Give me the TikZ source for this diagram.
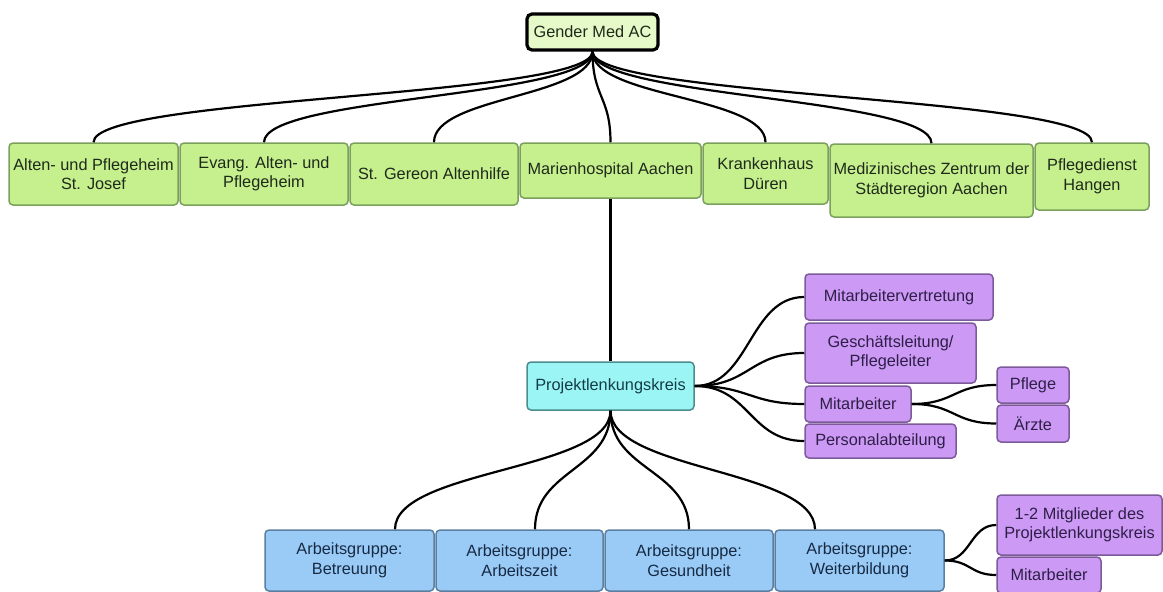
\documentclass[tikz,border=0pt]{standalone}
\usepackage{fontspec}
\setmainfont{Liberation Sans}
\definecolor{gfill}{HTML}{C6EF8E}
\definecolor{gdraw}{HTML}{7BA05B}
\definecolor{gtext}{HTML}{1F2A1A}
\definecolor{topfill}{HTML}{E6F9C8}
\definecolor{cfill}{HTML}{9CF5F5}
\definecolor{cdraw}{HTML}{4D8C8C}
\definecolor{ctext}{HTML}{143C46}
\definecolor{pfill}{HTML}{CC99F5}
\definecolor{pdraw}{HTML}{7D5A99}
\definecolor{ptext}{HTML}{2E1F48}
\definecolor{bfill}{HTML}{9ACBF7}
\definecolor{bdraw}{HTML}{5A7FA0}
\definecolor{btext}{HTML}{172A42}
\begin{document}
\begin{tikzpicture}[x=1pt,y=-1pt,
  box/.style={rectangle, rounded corners=4pt, line width=1.5pt, align=center, inner sep=0pt,
    font=\fontsize{16.3}{19.5}\selectfont},
  gbox/.style={box, fill=gfill, draw=gdraw, text=gtext},
  topbox/.style={box, fill=topfill, draw=black, line width=3.2pt, rounded corners=5pt, text=gtext},
  cbox/.style={box, fill=cfill, draw=cdraw, text=ctext},
  pbox/.style={box, fill=pfill, draw=pdraw, text=ptext},
  bbox/.style={box, fill=bfill, draw=bdraw, text=btext},
  conn/.style={draw=black, line width=2.2pt}]
\useasboundingbox (0,0) rectangle (1163,592);
\clip (0,0) rectangle (1163,592);
% top
\node[topbox, minimum width=131pt, minimum height=36pt] (g) at (592.5,32) {Gender Med AC};
% second row
\node[gbox, minimum width=169pt, minimum height=62pt] (b1) at (93.5,174) {Alten- und Pflegeheim\\St. Josef};
\node[gbox, minimum width=168pt, minimum height=62pt] (b2) at (264,174) {Evang. Alten- und\\Pflegeheim};
\node[gbox, minimum width=168pt, minimum height=62pt] (b3) at (434,174) {St. Gereon Altenhilfe};
\node[gbox, minimum width=181pt, minimum height=55pt] (b4) at (610.5,170.5) {Marienhospital Aachen};
\node[gbox, minimum width=125pt, minimum height=61pt] (b5) at (765.5,173.5) {Krankenhaus\\Düren};
\node[gbox, minimum width=203pt, minimum height=73pt] (b6) at (931.5,180.5) {Medizinisches Zentrum der\\Städteregion Aachen};
\node[gbox, minimum width=114pt, minimum height=67pt] (b7) at (1092,176.5) {Pflegedienst\\Hangen};
% project
\node[cbox, minimum width=167pt, minimum height=48pt] (p) at (610.5,386) {Projektlenkungskreis};
% purple right
\node[pbox, minimum width=188pt, minimum height=46pt] (m1) at (899,297) {Mitarbeitervertretung};
\node[pbox, minimum width=171pt, minimum height=60pt] (m2) at (890.5,353) {Geschäftsleitung/\\Pflegeleiter};
\node[pbox, minimum width=106pt, minimum height=36pt] (m3) at (858,404) {Mitarbeiter};
\node[pbox, minimum width=151pt, minimum height=34pt] (m4) at (880.5,441) {Personalabteilung};
\node[pbox, minimum width=72pt, minimum height=36pt] (m5) at (1033,385) {Pflege};
\node[pbox, minimum width=72pt, minimum height=37pt] (m6) at (1033,423.5) {Ärzte};
% working groups
\node[bbox, minimum width=169pt, minimum height=61pt] (a1) at (349.5,560.5) {Arbeitsgruppe:\\Betreuung};
\node[bbox, minimum width=167pt, minimum height=61pt] (a2) at (519.5,560.5) {Arbeitsgruppe:\\Arbeitszeit};
\node[bbox, minimum width=168pt, minimum height=61pt] (a3) at (689,560.5) {Arbeitsgruppe:\\Gesundheit};
\node[bbox, minimum width=169pt, minimum height=61pt] (a4) at (859.5,560.5) {Arbeitsgruppe:\\Weiterbildung};
\node[pbox, minimum width=165pt, minimum height=60pt] (m7) at (1079.5,525) {1-2 Mitglieder des\\Projektlenkungskreis};
\node[pbox, minimum width=104pt, minimum height=36pt] (m8) at (1049,575) {Mitarbeiter};
% connectors top
\foreach \n in {b1,b2,b3,b4,b5,b6,b7}
  \draw[conn] (g.south) .. controls +(0,46) and +(0,-46) .. (\n.north);
\draw[conn] (b4.south) -- (p.north);
% connectors to purple
\foreach \n in {m1,m2,m3,m4}
  \draw[conn] (p.east) .. controls +(55,0) and +(-55,0) .. (\n.west);
\foreach \n in {m5,m6}
  \draw[conn] (m3.east) .. controls +(43,0) and +(-43,0) .. (\n.west);
% connectors to working groups
\draw[conn] (p.south) .. controls +(0,60) and +(0,-60) .. ([xshift=45.5pt]a1.north);
\draw[conn] (p.south) .. controls +(0,60) and +(0,-60) .. ([xshift=15.5pt]a2.north);
\draw[conn] (p.south) .. controls +(0,60) and +(0,-60) .. (a3.north);
\draw[conn] (p.south) .. controls +(0,60) and +(0,-60) .. ([xshift=-44.5pt]a4.north);
\foreach \n in {m7,m8}
  \draw[conn] (a4.east) .. controls +(26,0) and +(-26,0) .. (\n.west);
\end{tikzpicture}
\end{document}
